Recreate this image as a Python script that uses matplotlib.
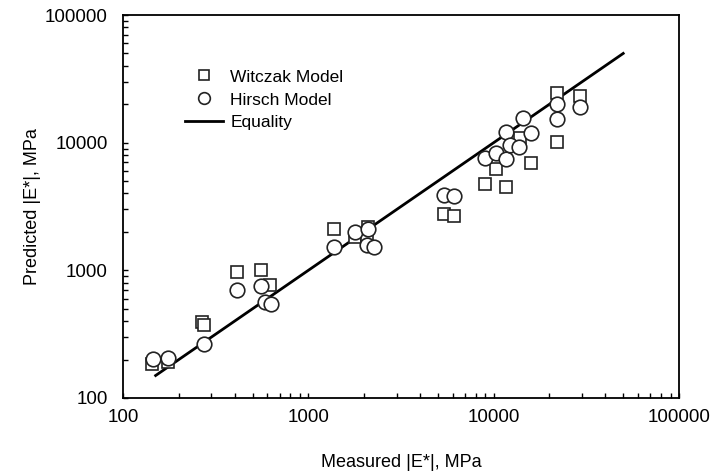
import numpy as np
import matplotlib.pyplot as plt
from matplotlib.ticker import LogLocator, NullFormatter, FixedLocator, FixedFormatter

plt.rcParams['font.family'] = ['Liberation Sans', 'DejaVu Sans']

# values (MPa)
witczak_x = [143, 175, 267, 275, 412, 556, 621, 1380, 1790, 2110, 2070,
             5400, 6080, 8970, 10300, 11660, 13900, 15900, 22000, 22000, 29200]
witczak_y = [185, 190, 394, 372, 975, 1000, 765, 2120, 1830, 2170, 1790,
             2760, 2680, 4740, 6250, 4490, 10800, 6900, 10100, 24500, 23200]

hirsch_x = [145, 174, 274, 414, 553, 583, 627, 1380, 1790, 2110, 2065, 2260,
            5400, 6080, 8970, 10250, 11660, 11660, 12250, 13700, 14400, 15900,
            22000, 22000, 29200]
hirsch_y = [202, 207, 263, 702, 753, 568, 545, 1510, 2000, 2100, 1580, 1510,
            3890, 3820, 7590, 8300, 7450, 12100, 9570, 9250, 15600, 11900,
            15300, 20100, 19000]

equality = [150, 50000]
ticks = [100, 1000, 10000, 100000]
tick_labels = ['100', '1000', '10000', '100000']

fig = plt.figure(figsize=(7.14, 4.72), dpi=100)
ax = fig.add_axes([123 / 714, 74 / 472, 556 / 714, 383 / 472])

ax.plot(witczak_x, witczak_y, 's', ms=9, mfc='white', mec='#222222', mew=1.2,
        label='Witczak Model', zorder=3)
ax.plot(hirsch_x, hirsch_y, 'o', ms=10.5, mfc='white', mec='#222222', mew=1.2,
        label='Hirsch Model', zorder=4)
ax.plot(equality, equality, '-', color='black', lw=2, label='Equality', zorder=2)

ax.set_xscale('log')
ax.set_yscale('log')
ax.set_xlim(100, 100000)
ax.set_ylim(100, 100000)

for axis in (ax.xaxis, ax.yaxis):
    axis.set_major_locator(FixedLocator(ticks))
    axis.set_major_formatter(FixedFormatter(tick_labels))
    axis.set_minor_locator(LogLocator(base=10, subs=np.arange(2, 10)))
    axis.set_minor_formatter(NullFormatter())

ax.tick_params(which='both', direction='in', top=False, right=False,
               length=3.5, width=1, labelsize=13.5)
ax.tick_params(axis='x', pad=8)
ax.tick_params(axis='y', pad=11)
for s in ax.spines.values():
    s.set_linewidth(1.3)

ax.set_xlabel('Measured |E*|, MPa', fontsize=13, labelpad=20)
ax.set_ylabel('Predicted |E*|, MPa', fontsize=13, labelpad=3)

leg = ax.legend(loc='upper left', bbox_to_anchor=(0.1115, 0.858), frameon=False,
                fontsize=12.5, handlelength=2.2, handletextpad=0.4,
                labelspacing=0.45, markerscale=0.8, borderpad=0,
                borderaxespad=0)

fig.savefig('out.png', dpi=100)
